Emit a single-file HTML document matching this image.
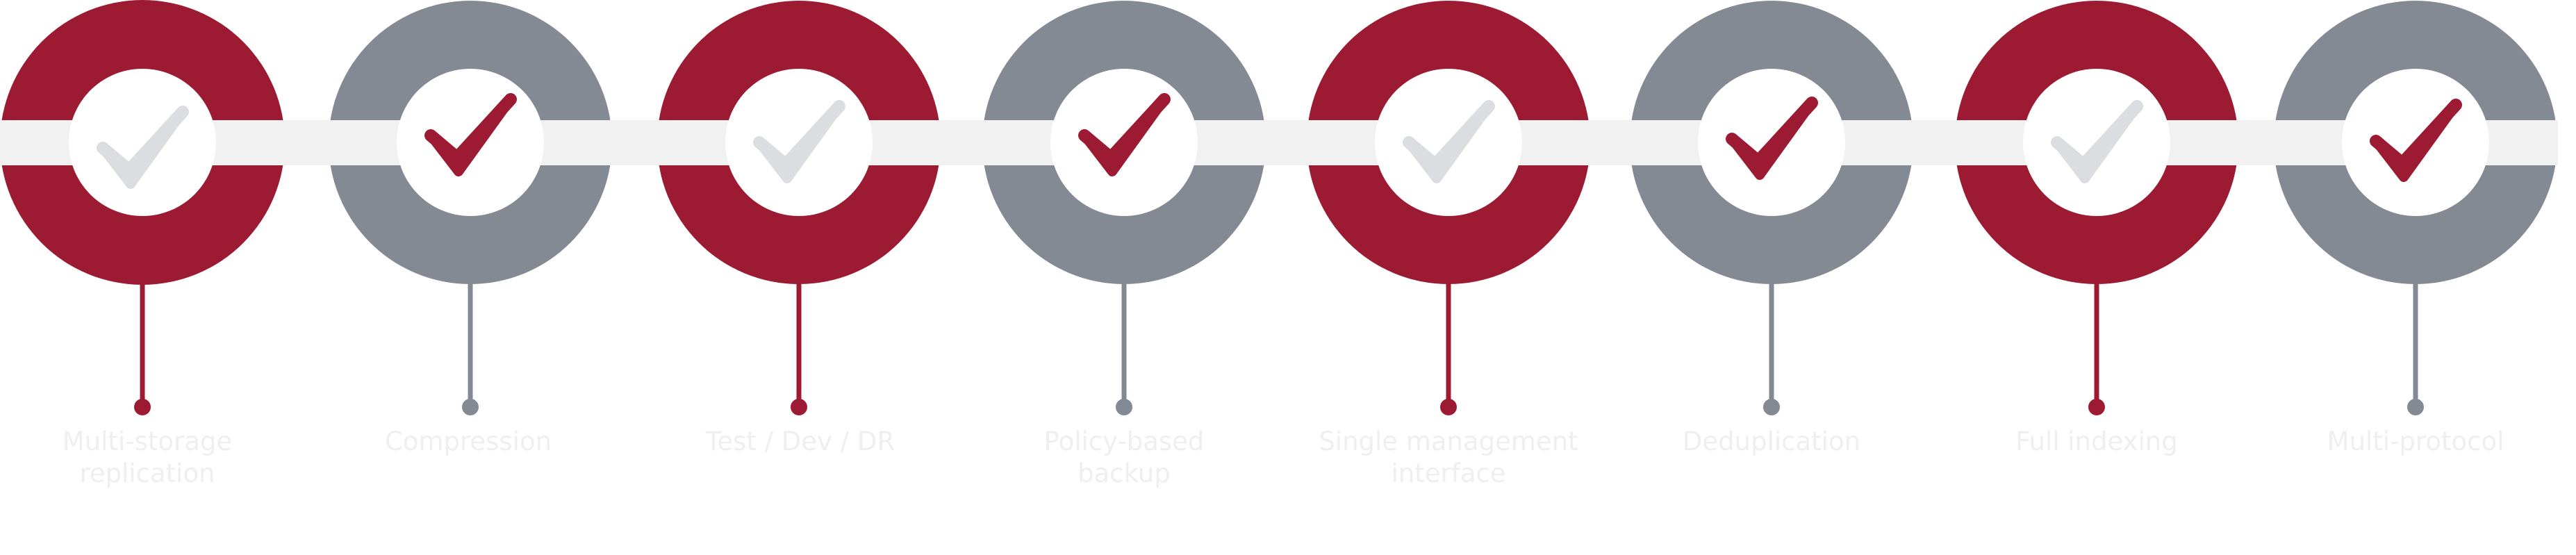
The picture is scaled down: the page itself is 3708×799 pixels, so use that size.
<!DOCTYPE html>
<html><head><meta charset="utf-8"><style>
html,body{margin:0;padding:0;background:#fff;}
svg{display:block}
text{font-family:"DejaVu Sans","Liberation Sans",sans-serif;font-size:37px;fill:#efefef;text-anchor:middle}
</style></head><body>
<svg width="3708" height="799" viewBox="0 0 3708 799" xmlns="http://www.w3.org/2000/svg">
<defs>
<g id="chk"><path d="M-57,0 L-19,32 L58,-52" fill="none" stroke-width="18" stroke-linecap="round" stroke-linejoin="round"/><path d="M-57,0 L-17,52 L58,-52" fill="none" stroke-width="14" stroke-linecap="round" stroke-linejoin="round"/></g>
</defs>
<g>
<circle cx="205" cy="205" r="205" fill="#9c1b32"/>
<circle cx="677" cy="205" r="204" fill="#848a94"/>
<circle cx="1150" cy="205" r="204" fill="#9c1b32"/>
<circle cx="1618" cy="205" r="204" fill="#848a94"/>
<circle cx="2085" cy="205" r="204" fill="#9c1b32"/>
<circle cx="2550" cy="205" r="204" fill="#848a94"/>
<circle cx="3018" cy="205" r="204" fill="#9c1b32"/>
<circle cx="3477" cy="205" r="204" fill="#848a94"/>
</g>
<rect x="0" y="173" width="3682" height="65" fill="#f1f1f1"/>
<g fill="#fff">
<circle cx="205" cy="205" r="106"/><circle cx="677" cy="205" r="106"/><circle cx="1150" cy="205" r="106"/><circle cx="1618" cy="205" r="106"/>
<circle cx="2085" cy="205" r="106"/><circle cx="2550" cy="205" r="106"/><circle cx="3018" cy="205" r="106"/><circle cx="3477" cy="205" r="106"/>
</g>
<use href="#chk" x="205" y="213" stroke="#dcdde0"/>
<use href="#chk" x="677" y="195" stroke="#9c1b32"/>
<use href="#chk" x="1150" y="205" stroke="#dcdde0"/>
<use href="#chk" x="1618" y="195" stroke="#9c1b32"/>
<use href="#chk" x="2085" y="205" stroke="#dcdde0"/>
<use href="#chk" x="2550" y="200" stroke="#9c1b32"/>
<use href="#chk" x="3018" y="205" stroke="#dcdde0"/>
<use href="#chk" x="3477" y="203" stroke="#9c1b32"/>
<g stroke-width="7">
<line x1="205" y1="405" x2="205" y2="585" stroke="#9c1b32"/>
<line x1="677" y1="405" x2="677" y2="585" stroke="#848a94"/>
<line x1="1150" y1="405" x2="1150" y2="585" stroke="#9c1b32"/>
<line x1="1618" y1="405" x2="1618" y2="585" stroke="#848a94"/>
<line x1="2085" y1="405" x2="2085" y2="585" stroke="#9c1b32"/>
<line x1="2550" y1="405" x2="2550" y2="585" stroke="#848a94"/>
<line x1="3018" y1="405" x2="3018" y2="585" stroke="#9c1b32"/>
<line x1="3477" y1="405" x2="3477" y2="585" stroke="#848a94"/>
</g>
<circle cx="205" cy="586" r="12" fill="#9c1b32"/>
<circle cx="677" cy="586" r="12" fill="#848a94"/>
<circle cx="1150" cy="586" r="12" fill="#9c1b32"/>
<circle cx="1618" cy="586" r="12" fill="#848a94"/>
<circle cx="2085" cy="586" r="12" fill="#9c1b32"/>
<circle cx="2550" cy="586" r="12" fill="#848a94"/>
<circle cx="3018" cy="586" r="12" fill="#9c1b32"/>
<circle cx="3477" cy="586" r="12" fill="#848a94"/>
<text x="212" y="648">Multi-storage</text><text x="212" y="694">replication</text>
<text x="674" y="648">Compression</text>
<text x="1152" y="648">Test / Dev / DR</text>
<text x="1618" y="648">Policy-based</text><text x="1618" y="694">backup</text>
<text x="2085" y="648">Single management</text><text x="2085" y="694">interface</text>
<text x="2550" y="648">Deduplication</text>
<text x="3018" y="648">Full indexing</text>
<text x="3477" y="648">Multi-protocol</text>
</svg>
</body></html>
